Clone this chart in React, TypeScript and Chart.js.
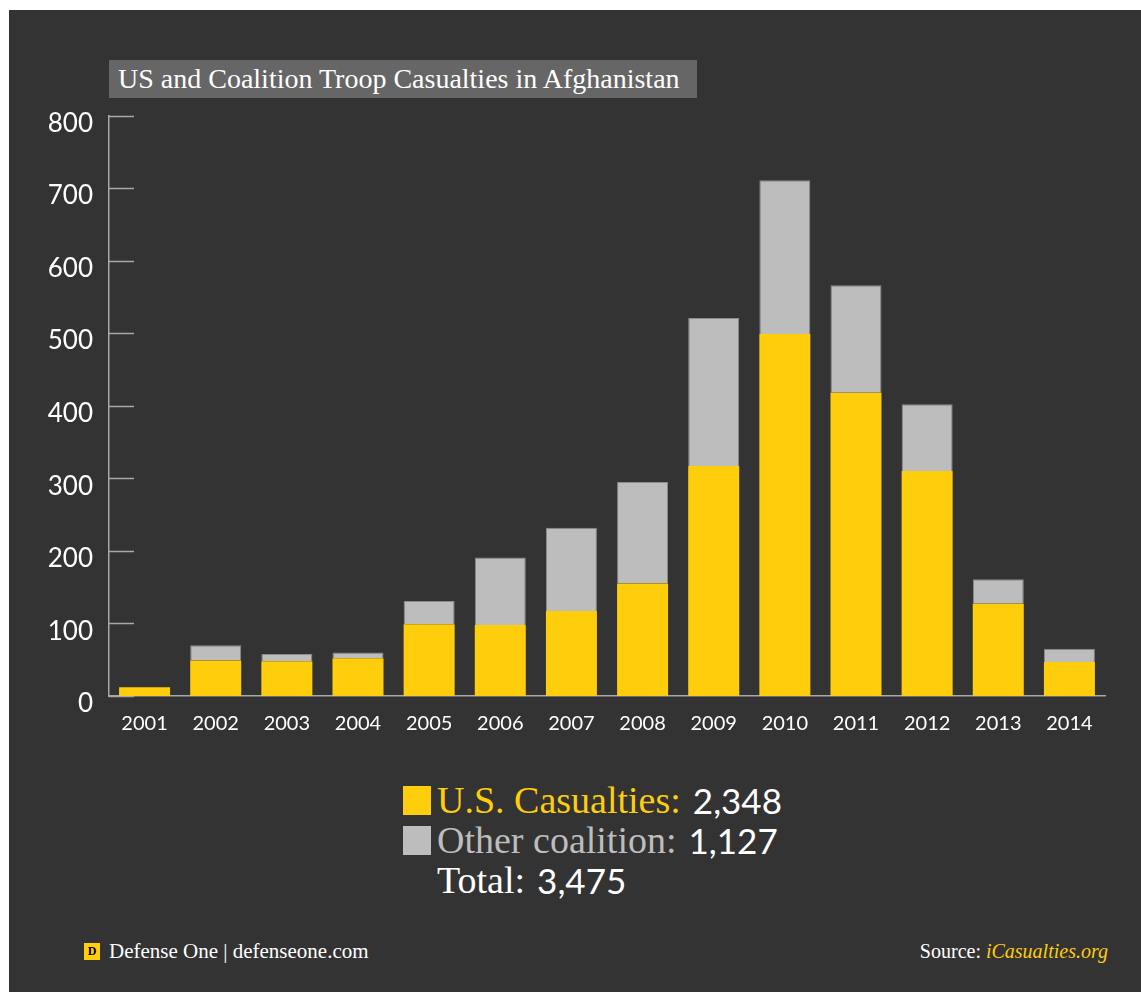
import React, { useEffect, useRef } from "react";
import { Chart, registerables } from "chart.js";

Chart.register(...registerables);

const years = ["2001", "2002", "2003", "2004", "2005", "2006", "2007", "2008", "2009", "2010", "2011", "2012", "2013", "2014"];
const usCasualties = [12, 49, 48, 52, 99, 98, 117, 155, 317, 499, 418, 310, 127, 47];
const otherCoalition = [0, 21, 10, 8, 32, 93, 115, 140, 204, 212, 148, 92, 34, 18];
const yTicks = [0, 100, 200, 300, 400, 500, 600, 700, 800];
const legendRows = [
  { label: "U.S. Casualties:", value: "2,348", color: "#fecd0b", swatch: "#fecd0b" },
  { label: "Other coalition:", value: "1,127", color: "#bdbdbd", swatch: "#bdbdbd" },
  { label: "Total:", value: "3,475", color: "#ffffff", swatch: null as string | null },
];

const YELLOW = "#fecd0b";
const GREY = "#bdbdbd";
const SERIF = "'Liberation Serif', 'DejaVu Serif', serif";
const SANS = "Lato, 'Open Sans', sans-serif";

const inwardTicks = {
  id: "inwardTicks",
  beforeDatasetsDraw(chart: any) {
    const y = chart.scales.y;
    const ctx = chart.ctx;
    ctx.save();
    ctx.strokeStyle = "#a8a8a8";
    ctx.lineWidth = 1.5;
    for (const v of yTicks) {
      const py = Math.round(y.getPixelForValue(v)) + 0.5;
      ctx.beginPath();
      ctx.moveTo(chart.chartArea.left, py);
      ctx.lineTo(chart.chartArea.left + 25, py);
      ctx.stroke();
    }
    ctx.restore();
  },
};

export default function App() {
  const ref = useRef<HTMLCanvasElement>(null);

  useEffect(() => {
    if (!ref.current) return;
    const chart = new Chart(ref.current, {
      type: "bar",
      data: {
        labels: years,
        datasets: [
          {
            label: "U.S. Casualties",
            data: usCasualties,
            backgroundColor: YELLOW,
            borderWidth: 0,
            categoryPercentage: 1,
            barPercentage: 0.717,
          },
          {
            label: "Other coalition",
            data: otherCoalition,
            backgroundColor: GREY,
            borderColor: "#8c8c8c",
            borderWidth: { top: 1, left: 1, right: 1, bottom: 0 },
            categoryPercentage: 1,
            barPercentage: 0.717,
          },
        ],
      },
      options: {
        animation: false,
        responsive: false,
        maintainAspectRatio: false,
        layout: { padding: { top: 0, right: 36, bottom: 0, left: 0 } },
        plugins: {
          legend: { display: false },
          tooltip: { enabled: false },
          title: { display: false },
        },
        scales: {
          x: {
            stacked: true,
            grid: { display: false, drawTicks: false },
            border: { display: true, color: "#a8a8a8", width: 1.5 },
            ticks: {
              color: "#ffffff",
              font: { family: SANS, size: 20 },
              padding: 16,
            },
          },
          y: {
            stacked: true,
            min: 0,
            max: 800,
            afterFit: (scale: any) => {
              scale.width = 100;
            },
            afterBuildTicks: (scale: any) => {
              scale.ticks = yTicks.map((v) => ({ value: v }));
            },
            grid: { display: false, drawTicks: false },
            border: { display: true, color: "#a8a8a8", width: 1.5 },
            ticks: {
              color: "#ffffff",
              font: { family: SANS, size: 26, lineHeight: 0.6 },
              padding: 16,
              callback: (v: any) => ["", String(v)],
            },
          },
        },
      },
      plugins: [inwardTicks],
    });
    return () => chart.destroy();
  }, []);

  return (
    <div
      style={{
        position: "fixed",
        left: 9,
        top: 10,
        right: 0,
        bottom: 0,
        background: "#333333",
        overflow: "hidden",
      }}
    >
      <div
        style={{
          position: "absolute",
          left: 100,
          top: 50,
          width: 588,
          height: 38,
          background: "#666666",
          color: "#ffffff",
          fontFamily: SERIF,
          fontSize: 28,
          lineHeight: "38px",
          paddingLeft: 9,
          boxSizing: "border-box",
          whiteSpace: "nowrap",
        }}
      >
        US and Coalition Troop Casualties in Afghanistan
      </div>

      <canvas
        ref={ref}
        width={1132}
        height={668}
        style={{ position: "absolute", left: 0, top: 74, width: 1132, height: 668 }}
      />

      <div style={{ position: "absolute", left: 394, top: 770 }}>
        {legendRows.map((r, i) => (
          <div
            key={i}
            style={{
              display: "flex",
              alignItems: "center",
              height: 40,
              whiteSpace: "nowrap",
            }}
          >
            <div
              style={{
                width: 28,
                height: 29,
                background: r.swatch || "transparent",
                marginRight: 6,
              }}
            />
            <span style={{ fontFamily: SERIF, fontSize: 38, color: r.color }}>{r.label}</span>
            <span style={{ fontFamily: SANS, fontSize: 35, color: "#ffffff", marginLeft: 12 }}>{r.value}</span>
          </div>
        ))}
      </div>

      <div
        style={{
          position: "absolute",
          left: 75,
          top: 930,
          display: "flex",
          alignItems: "center",
          height: 22,
          whiteSpace: "nowrap",
        }}
      >
        <div
          style={{
            width: 16,
            height: 17,
            background: YELLOW,
            color: "#000",
            fontFamily: SERIF,
            fontWeight: "bold",
            fontSize: 12,
            lineHeight: "17px",
            textAlign: "center",
            marginRight: 9,
          }}
        >
          D
        </div>
        <span style={{ fontFamily: SERIF, fontSize: 21, color: "#ffffff" }}>Defense One | defenseone.com</span>
      </div>

      <div
        style={{
          position: "absolute",
          right: 33,
          top: 930,
          height: 22,
          lineHeight: "22px",
          whiteSpace: "nowrap",
          fontFamily: SERIF,
          fontSize: 20,
          color: "#ffffff",
        }}
      >
        Source: <span style={{ color: YELLOW, fontStyle: "italic" }}>iCasualties.org</span>
      </div>
    </div>
  );
}
